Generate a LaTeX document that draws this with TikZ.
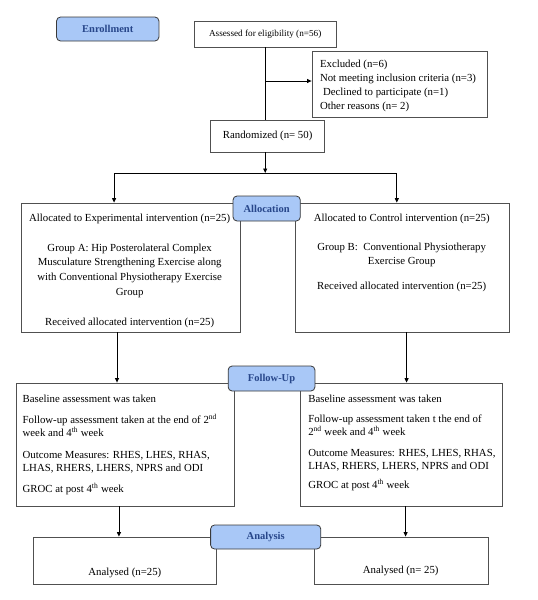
\documentclass[tikz,border=0pt]{standalone}
\usepackage{fontspec}
\setmainfont{Liberation Serif}
\usetikzlibrary{arrows.meta,fit}
\definecolor{lblfill}{HTML}{A9C8F7}
\definecolor{lbltext}{HTML}{27468A}
\definecolor{lbldraw}{HTML}{3A3A3A}
\definecolor{boxline}{HTML}{505050}
\begin{document}
\begin{tikzpicture}[x=0.975pt,y=-1pt,
  box/.style={draw=boxline, line width=0.8pt, fill=white, inner sep=0pt},
  lbl/.style={draw=lbldraw, fill=lblfill, rounded corners=4pt, line width=0.8pt, inner sep=0pt},
  lbltxt/.style={inner sep=0pt, text=lbltext, font=\bfseries\fontsize{10.5}{12}\selectfont},
  arr/.style={-{Triangle[length=4.5pt,width=4pt]}, line width=0.9pt},
  ln/.style={line width=0.9pt},
  txt/.style={font=\fontsize{10.8}{13}\selectfont, inner sep=0pt}]
\useasboundingbox (0,0) rectangle (550.77,600);

% enrollment
\node[lbl, fit={(58,17) (163,41)}] (enr) {};
\node[lbltxt] (enrt) at (enr.center) {Enrollment};
\node[box, fit={(199,21) (345,47)}] (ass) {};
\node[txt, font=\fontsize{9.2}{11}\selectfont] (asst) at (ass.center) {Assessed for eligibility (n=56)};
\node[box, fit={(320,51) (500,117)}] (exc) {};
\foreach \y/\t [count=\i] in {64/{Excluded (n=6)}, 78/{Not meeting inclusion criteria (n=3)}, 92/{\hspace{3pt}Declined to participate (n=1)}, 106/{Other reasons (n= 2)}}
  \node[txt, anchor=base west] (ex\i) at (328,\y+3.6) {\t};
\node[box, fit={(216,120) (333,152)}] (rand) {};
\node[txt] (randt) at (rand.center) {Randomized (n= 50)};

\coordinate (cj) at (272,81);
\coordinate (rj) at (272,173);
\coordinate (lj) at (117,173);
\coordinate (rr) at (407,173);
\draw[ln] (ass.south -| cj) -- (rand.north -| cj);
\draw[arr] (cj) -- (exc.west |- cj);
\draw[arr] (rand.south -| rj) -- (rj);
\draw[ln] (lj) -- (rr);

% allocation
\node[box, fit={(22,203) (247,332)}] (al) {};
\node[box, fit={(303,203) (522,332)}] (ar) {};
\node[lbl, fit={(239,196) (308,221)}] (alloc) {};
\node[lbltxt] (alloct) at (alloc.center) {Allocation};
\draw[arr] (lj) -- (al.north -| lj);
\draw[arr] (rr) -- (ar.north -| rr);
\foreach \y/\t [count=\i] in {218/{Allocated to Experimental intervention (n=25)}, 247.5/{Group A: Hip Posterolateral Complex}, 262/{Musculature Strengthening Exercise along}, 277/{with Conventional Physiotherapy Exercise}, 291.5/{Group}, 322/{Received allocated intervention (n=25)}}
  \node[txt, anchor=base] (tl\i) at (133,\y+3.6) {\t};
\foreach \y/\t [count=\i] in {218/{Allocated to Control intervention (n=25)}, 247/{Group B:\ \ Conventional Physiotherapy}, 261/{Exercise Group}, 286/{Received allocated intervention (n=25)}}
  \node[txt, anchor=base] (tr\i) at (412,\y+3.6) {\t};

% follow-up
\node[box, fit={(17,383) (240,506)}] (fl) {};
\node[box, fit={(308,383) (515,506)}] (fr) {};
\node[lbl, fit={(234,366) (323,391)}] (fol) {};
\node[lbltxt] (folt) at (fol.center) {Follow-Up};
\coordinate (xl) at (120,0);
\coordinate (xr) at (417,0);
\draw[arr] (al.south -| xl) -- (fl.north -| xl);
\draw[arr] (ar.south -| xr) -- (fr.north -| xr);
\foreach \y/\t [count=\i] in {399/{Baseline assessment was taken}, 420/{Follow-up assessment taken at the end of 2\textsuperscript{nd}}, 433/{week and 4\textsuperscript{th} week}, 455/{Outcome Measures: RHES, LHES, RHAS,}, 468/{LHAS, RHERS, LHERS, NPRS and ODI}, 489/{GROC at post 4\textsuperscript{th} week}}
  \node[txt, anchor=base west] (fl\i) at (23,\y+3.6) {\t};
\foreach \y/\t [count=\i] in {399/{Baseline assessment was taken}, 419/{Follow-up assessment taken t the end of}, 432/{2\textsuperscript{nd} week and 4\textsuperscript{th} week}, 453/{Outcome Measures: RHES, LHES, RHAS,}, 466/{LHAS, RHERS, LHERS, NPRS and ODI}, 485/{GROC at post 4\textsuperscript{th} week}}
  \node[txt, anchor=base west] (fr\i) at (316,\y+3.6) {\t};

% analysis
\node[box, fit={(34,537) (222,584)}] (nl) {};
\node[box, fit={(322,537) (501,584)}] (nr) {};
\node[lbl, fit={(216,525) (329,549)}] (ana) {};
\node[lbltxt] (anat) at (ana.center) {Analysis};
\coordinate (yl) at (122,0);
\coordinate (yr) at (416,0);
\draw[arr] (fl.south -| yl) -- (nl.north -| yl);
\draw[arr] (fr.south -| yr) -- (nr.north -| yr);
\node[txt, anchor=base] (anl) at (128,572+3.6) {Analysed (n=25)};
\node[txt, anchor=base] (anr) at (411,570+3.6) {Analysed (n= 25)};
\end{tikzpicture}
\end{document}
